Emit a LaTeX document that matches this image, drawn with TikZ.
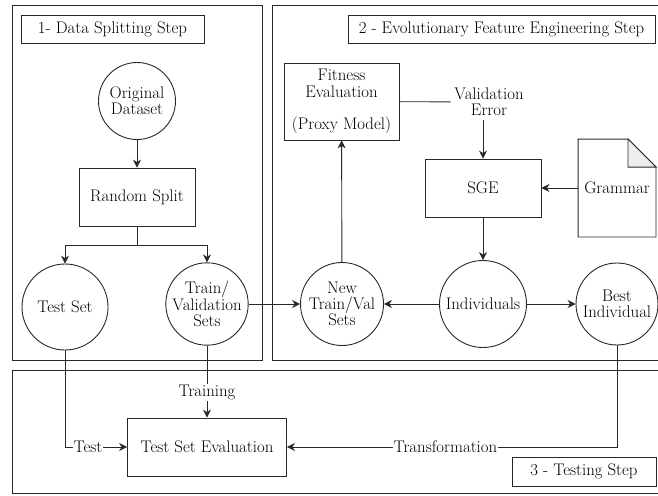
\documentclass[tikz,border=0pt]{standalone}
\usepackage{fontspec}
\usepackage{tikz}
\usepackage{xcolor}
\usetikzlibrary{arrows.meta, positioning, calc}
\definecolor{linegray}{RGB}{40, 40, 40}
\definecolor{foldgray}{RGB}{238, 238, 238}
\newcommand{\dfont}{\fontsize{16.8}{16.2}\selectfont}

\begin{document}
\begin{tikzpicture}[x=1pt, y=-1pt, >={Stealth[length=8pt, width=8pt]},
    every node/.style={font=\dfont, align=center},
    state/.style={draw, circle, inner sep=0pt},
    stepbox/.style={draw, rectangle, inner sep=0pt},
    title/.style={draw, rectangle, inner sep=0pt, minimum height=28},
    lbl/.style={fill=white, inner sep=1pt},
    line width=0.9pt, draw=linegray]
    \useasboundingbox (0,0) rectangle (658,495);
    \clip (0,0) rectangle (658,495);

    % panels
    \draw (12,5) rectangle (262,360);
    \draw (272,5) rectangle (700,360);
    \draw (12,370) rectangle (700,493);
    \node[title, minimum width=183] (t1) at (112.5,29) {1- Data Splitting Step};
    \node[title, minimum width=307] (t2) at (501.5,29) {2 - Evolutionary Feature Engineering Step};
    \node[title, minimum width=144, minimum height=29] (t3) at (584,471.5) {3 - Testing Step};

    % step 1
    \node[state, minimum size=77] (orig) at (137,101) {Original\\Dataset};
    \node[stepbox, minimum width=116, minimum height=58] (split) at (137,197) {Random Split};
    \coordinate (fork) at (137,245);
    \node[state, minimum size=86] (test) at (65,307) {Test Set};
    \node[state, minimum size=82] (trainval) at (207,304) {Train/\\Validation\\Sets};

    % step 2
    \node[stepbox, minimum width=115, minimum height=77] (fitness) at (341.5,101.5) {Fitness\\Evaluation\\ \\(Proxy Model)};
    \node (valerr) at (489,102) {Validation\\Error};
    \node[stepbox, minimum width=116, minimum height=58] (sge) at (483,188) {SGE};
    \node[minimum width=77, minimum height=97, inner sep=0pt] (grammar) at (617,188) {Grammar};
    \draw (grammar.north west) -- ($(grammar.north east)+(-28,0)$) -- ($(grammar.north east)+(0,28)$)
        -- (grammar.south east) -- (grammar.south west) -- cycle;
    \draw[fill=foldgray] ($(grammar.north east)+(-28,0)$) -- ($(grammar.north east)+(-28,28)$)
        -- ($(grammar.north east)+(0,28)$) -- cycle;
    \node[state, minimum size=83] (newtv) at (342,304) {New\\Train/Val\\Sets};
    \node[state, minimum size=87] (indiv) at (483,304) {Individuals};
    \node[state, minimum size=82] (best) at (617,304) {Best\\Individual};

    % step 3
    \node[stepbox, minimum width=159, minimum height=58] (tse) at (207,447) {Test Set Evaluation};

    \draw[->] (orig) -- (split);
    \draw (split) -- (fork);
    \draw[->] (fork) -| (test);
    \draw[->] (fork) -| (trainval);
    \draw[->] (trainval) -- (newtv);
    \draw[->] (newtv) -- (fitness);
    \draw (fitness) -- (valerr);
    \draw[->] (valerr.south -| sge.north) -- (sge.north);
    \draw[->] (grammar) -- (sge);
    \draw[->] (sge) -- (indiv);
    \draw[->] (indiv) -- (newtv);
    \draw[->] (indiv) -- (best);
    \draw[->] (trainval) -- node[lbl, pos=0.65] {Training} (tse);
    \draw[->] (test) |- node[lbl, pos=0.685] {Test} (tse);
    \draw[->] (best) |- node[lbl, pos=0.76] {Transformation} (tse);
\end{tikzpicture}
\end{document}
